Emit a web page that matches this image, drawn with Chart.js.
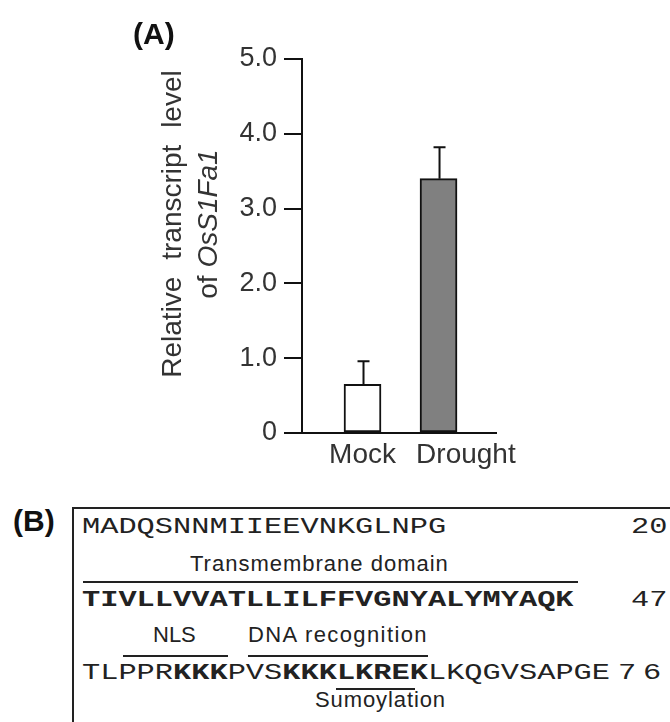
<!DOCTYPE html>
<html>
<head>
<meta charset="utf-8">
<script src="https://cdn.jsdelivr.net/npm/chart.js@4.4.1/dist/chart.umd.min.js"></script>
<style>
  body { margin: 0; background: #fff; }
  #page { position: relative; width: 670px; height: 722px; overflow: hidden; background: #fff; }
  #chart { position: absolute; left: 0; top: 0; }
  .t { position: absolute; white-space: pre; font-family: "Liberation Sans", Arial, sans-serif; color: #222; }
  .mono { position: absolute; white-space: pre; font-family: "Liberation Mono", "Courier New", monospace; font-size: 22px; line-height: 22px; color: #222; transform: scaleX(1.379); transform-origin: 0 0; }
  .lbl { font-size: 22px; line-height: 22px; }
  .panel { font-size: 30px; line-height: 30px; font-weight: bold; color: #111; }
  .bar { position: absolute; height: 2px; background: #222; }
  #ytitle { position: absolute; left: 30px; top: 188px; width: 320px; height: 72px; transform: rotate(-90deg); text-align: center; font-family: "Liberation Sans", Arial, sans-serif; font-size: 28px; line-height: 36px; color: #333; }
  #box { position: absolute; left: 72px; top: 507px; width: 700px; height: 300px; border: 2px solid #222; }
</style>
</head>
<body>
<div id="page">
  <canvas id="chart" width="670" height="490"></canvas>
  <div class="t panel" style="left:133px; top:19px;">(A)</div>
  <div id="ytitle"><div style="word-spacing:9px;">Relative transcript level</div><div>of <i>OsS1Fa1</i></div></div>

  <div class="t panel" style="left:13px; top:506px;">(B)</div>
  <div id="box"></div>
  <div class="mono" style="left:82px; top:517px;">MADQSNNMIIEEVNKGLNPG</div>
  <div class="mono" style="left:631px; top:517px;">20</div>
  <div class="t lbl" style="left:190px; top:553px; letter-spacing:1px;">Transmembrane domain</div>
  <div class="bar" style="left:83px; top:581px; width:495px;"></div>
  <div class="mono" style="left:82px; top:590px; font-weight:bold;">TIVLLVVATLLILFFVGNYALYMYAQK</div>
  <div class="mono" style="left:631px; top:590px;">47</div>
  <div class="t lbl" style="left:153px; top:624px;">NLS</div>
  <div class="t lbl" style="left:248px; top:624px; letter-spacing:1.4px;">DNA recognition</div>
  <div class="bar" style="left:123px; top:655px; width:105px;"></div>
  <div class="bar" style="left:248px; top:655px; width:180px;"></div>
  <div class="mono" style="left:82px; top:663px;">TLPPR<b>KKK</b>PVS<b>KKKLKREK</b>LKQGVSAPGE</div>
  <div class="mono" style="left:618px; top:663px; letter-spacing:5px;">76</div>
  <div class="bar" style="left:336px; top:688px; width:79px;"></div>
  <div class="t lbl" style="left:315px; top:689px; letter-spacing:0.9px;">Sumoylation</div>
</div>
<script>
const categories = ['Mock', 'Drought'];
const means = [0.65, 3.4];
const errors = [0.31, 0.42];
const yTicks = [0, 1, 2, 3, 4, 5];
const yTickLabels = ['0', '1.0', '2.0', '3.0', '4.0', '5.0'];
const barColors = ['#ffffff', '#808080'];

// the category labels sit a little right of the bars in the original
const labelNudge = [0, 0.36];

const font = '"Liberation Sans", Arial, sans-serif';
const ink = '#111';

const errorBars = {
  id: 'errorBars',
  afterDatasetsDraw(chart) {
    const ctx = chart.ctx;
    const y = chart.scales.y;
    chart.getDatasetMeta(0).data.forEach((bar, i) => {
      const top = y.getPixelForValue(means[i] + errors[i]);
      ctx.save();
      ctx.strokeStyle = ink;
      ctx.lineWidth = 2;
      ctx.beginPath();
      ctx.moveTo(bar.x + 1, bar.y);
      ctx.lineTo(bar.x + 1, top);
      ctx.moveTo(bar.x - 5, top);
      ctx.lineTo(bar.x + 7, top);
      ctx.stroke();
      ctx.restore();
    });
  }
};

new Chart(document.getElementById('chart'), {
  type: 'bar',
  data: {
    datasets: [{
      data: categories.map((c, i) => ({ x: i, y: means[i] })),
      backgroundColor: barColors,
      borderColor: ink,
      borderWidth: 2,
      borderSkipped: false,
      barThickness: 37
    }]
  },
  options: {
    responsive: false,
    animation: false,
    devicePixelRatio: 1,
    layout: { padding: { top: 59, right: 174, bottom: 0, left: 0 } },
    plugins: { legend: { display: false }, tooltip: { enabled: false } },
    scales: {
      x: {
        type: 'linear',
        offset: false,
        min: -0.796,
        max: 1.756,
        afterBuildTicks: s => { s.ticks = categories.map((c, i) => ({ value: i + labelNudge[i] })); },
        afterFit: s => { s.height = 57; },
        ticks: { callback: (v, i) => categories[i], font: { family: font, size: 28 }, color: '#333', padding: 5, maxRotation: 0, autoSkip: false },
        grid: { display: false, drawTicks: false },
        border: { display: true, color: ink, width: 2 }
      },
      y: {
        min: 0,
        max: 5,
        afterBuildTicks: s => { s.ticks = yTicks.map(v => ({ value: v })); },
        afterFit: s => { s.width = 302; },
        ticks: { callback: (v, i) => yTickLabels[i], font: { family: font, size: 27 }, color: '#333', padding: 7 },
        grid: { drawOnChartArea: false, drawTicks: true, tickLength: 18, color: ink, lineWidth: 2 },
        border: { display: true, color: ink, width: 2 }
      }
    }
  },
  plugins: [errorBars]
});
</script>
</body>
</html>
